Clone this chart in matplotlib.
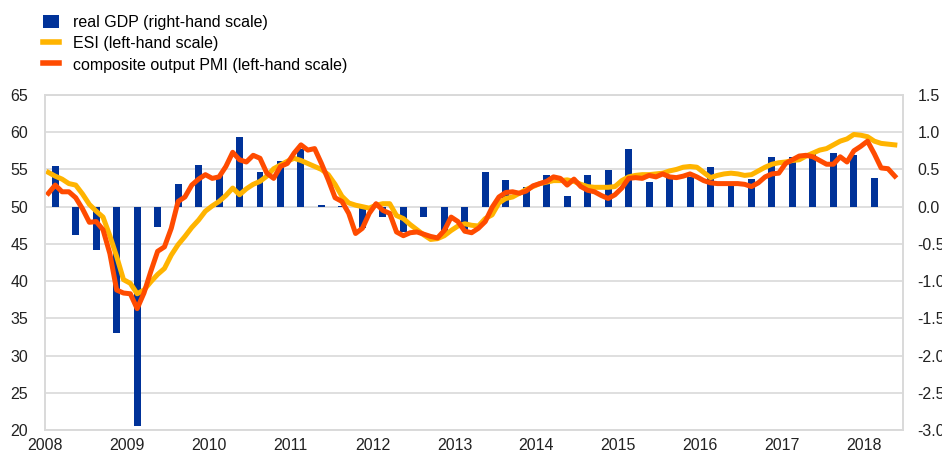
import matplotlib
matplotlib.use("Agg")
import matplotlib.pyplot as plt
from matplotlib.lines import Line2D
from matplotlib.patches import Patch
from matplotlib.ticker import FormatStrFormatter, MultipleLocator

plt.rcParams['font.family'] = ['Liberation Sans', 'DejaVu Sans']

# monthly series, Jan 2008 - May 2018 (left-hand scale)
esi = [
    54.6, 54.1, 53.7, 53.1, 52.9, 51.7, 50.3, 49.4, 48.6, 46.1, 43.3, 40.2,
    39.7, 38.3, 38.8, 39.9, 40.9, 41.7, 43.5, 44.9, 46.0, 47.2, 48.2, 49.4,
    50.1, 50.7, 51.5, 52.5, 51.6, 52.4, 53.0, 53.4, 54.1, 55.1, 55.6, 56.1,
    56.5, 56.2, 55.8, 55.4, 55.0, 54.3, 53.0, 51.4, 50.5, 50.2, 50.0, 49.8,
    50.2, 50.4, 50.4, 48.8, 48.4, 47.6, 46.9, 46.2, 45.6, 45.7, 46.1, 46.8,
    47.4, 47.7, 47.5, 47.4, 48.4, 48.9, 50.5, 51.1, 51.3, 51.8, 52.3, 52.7,
    53.1, 53.3, 53.5, 53.5, 53.6, 53.4, 53.0, 52.7, 52.6, 52.6, 52.6, 52.7,
    53.5, 54.0, 54.2, 54.3, 54.3, 54.4, 54.5, 54.8, 55.0, 55.3, 55.4, 55.3,
    54.6, 53.9, 54.2, 54.4, 54.5, 54.4, 54.2, 54.3, 54.8, 55.3, 55.7, 55.9,
    56.0, 56.2, 56.3, 56.8, 57.2, 57.6, 57.8, 58.3, 58.8, 59.1, 59.7, 59.6,
    59.4, 58.8, 58.5, 58.4, 58.3,
]
pmi = [
    51.8, 52.9, 52.0, 52.0, 51.2, 49.7, 47.9, 48.0, 46.9, 43.7, 38.8, 38.4,
    38.3, 36.3, 38.4, 41.3, 44.0, 44.6, 47.1, 50.7, 51.3, 52.9, 53.7, 54.3,
    53.8, 54.0, 55.4, 57.3, 56.3, 56.0, 56.9, 56.5, 54.5, 53.8, 55.4, 55.8,
    57.2, 58.3, 57.6, 57.8, 55.8, 53.6, 51.2, 50.7, 49.1, 46.4, 47.1, 49.1,
    50.4, 49.5, 49.1, 46.6, 46.1, 46.5, 46.6, 46.3, 46.0, 45.8, 46.8, 48.6,
    48.0, 46.7, 46.5, 47.1, 48.0, 49.9, 51.3, 51.9, 52.0, 51.8, 52.1, 52.8,
    53.1, 53.4, 54.0, 53.8, 52.9, 53.7, 52.7, 52.2, 52.0, 51.5, 51.1, 51.6,
    52.5, 53.8, 53.9, 53.8, 54.2, 54.0, 54.4, 54.0, 53.9, 54.1, 54.4, 54.0,
    53.5, 53.2, 53.1, 53.1, 53.1, 53.1, 53.0, 52.7, 53.2, 54.0, 54.4, 54.5,
    55.8, 56.3, 56.8, 56.9, 56.7, 56.2, 55.7, 55.7, 56.7, 56.0, 57.5, 58.1,
    58.8, 57.1, 55.2, 55.1, 54.1,
]
# quarterly real GDP growth, 2008Q1 - 2018Q1 (right-hand scale)
gdp = [
    0.55, -0.38, -0.58, -1.70,
    -2.94, -0.27, 0.30, 0.56,
    0.42, 0.93, 0.46, 0.62,
    0.78, 0.02, 0.01, -0.29,
    -0.14, -0.34, -0.14, -0.40,
    -0.31, 0.47, 0.36, 0.26,
    0.42, 0.14, 0.42, 0.49,
    0.77, 0.33, 0.38, 0.40,
    0.53, 0.30, 0.37, 0.67,
    0.67, 0.74, 0.72, 0.69,
    0.38,
]
years = list(range(2008, 2019))

BLUE = '#003299'
YELLOW = '#FFB400'
ORANGE = '#FF4B00'
GRID = '#d9d9d9'

x_month = [2008 + (i + 0.5) / 12 for i in range(len(esi))]
x_quarter = [2008 + (3 * q + 1.5) / 12 for q in range(len(gdp))]

fig = plt.figure(figsize=(9.42, 4.54), dpi=100)
ax = fig.add_axes([45 / 942, 24 / 454, 858 / 942, 335 / 454])
ax2 = ax.twinx()

# bars on the right-hand axis, drawn underneath the lines
ax2.bar(x_quarter, gdp, width=0.085, color=BLUE, zorder=2)
ax2.set_ylim(-3.0, 1.5)
ax2.yaxis.set_major_locator(MultipleLocator(0.5))
ax2.yaxis.set_major_formatter(FormatStrFormatter('%.1f'))
ax2.set_axisbelow(True)
ax2.grid(True, color=GRID, linewidth=1.2, zorder=0)

ax.set_zorder(ax2.get_zorder() + 1)
ax.patch.set_visible(False)
ax.plot(x_month, esi, color=YELLOW, linewidth=3.6, solid_joinstyle='round')
ax.plot(x_month, pmi, color=ORANGE, linewidth=3.6, solid_joinstyle='round')
ax.set_ylim(20, 65)
ax.yaxis.set_major_locator(MultipleLocator(5))
ax.set_xlim(2008, 2018.475)
ax.set_xticks(years)
ax.set_xticklabels([str(y) for y in years])

for a in (ax, ax2):
    a.tick_params(length=0, labelsize=11.5, colors='#222222')
    for s in a.spines.values():
        s.set_color(GRID)
        s.set_linewidth(1.2)
ax.tick_params(axis='y', pad=12)
ax.tick_params(axis='x', pad=6)
ax2.tick_params(axis='y', pad=10.5)

handles = [
    Patch(facecolor=BLUE, edgecolor='none'),
    Line2D([], [], color=YELLOW, linewidth=4),
    Line2D([], [], color=ORANGE, linewidth=4),
]
labels = [
    'real GDP (right-hand scale)',
    'ESI (left-hand scale)',
    'composite output PMI (left-hand scale)',
]
fig.legend(handles, labels, loc='upper left', bbox_to_anchor=(43 / 942, 1 - 15 / 454),
           frameon=False, fontsize=11.5, handlelength=1.0, handleheight=0.9,
           handletextpad=0.85, labelspacing=0.38, borderpad=0, borderaxespad=0)

fig.savefig('out.png', dpi=100)
